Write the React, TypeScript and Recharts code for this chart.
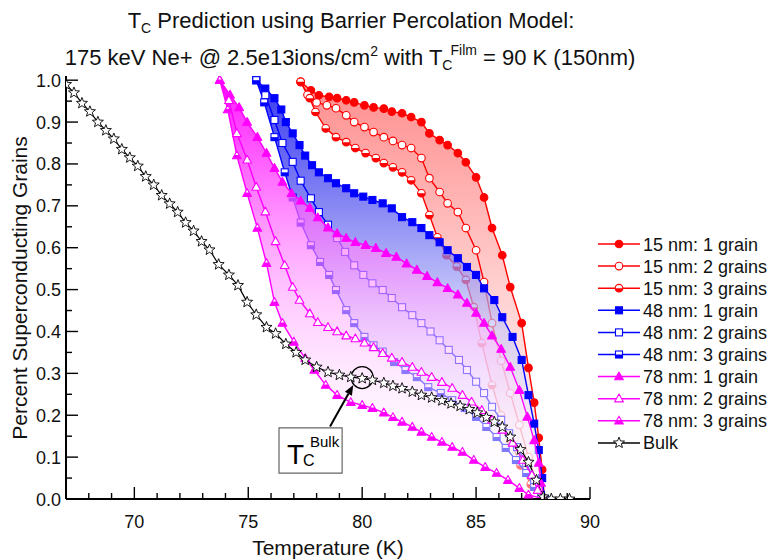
import React from 'react';
import {
  ComposedChart, Line, Area, XAxis, YAxis, CartesianGrid, Legend,
  ReferenceArea, ReferenceDot, ReferenceLine,
} from 'recharts';

type Pt = [number, number];

// ---------- data (temperature K, fraction) ----------
const nm15Grain1: Pt[] = [
  [77.3, 0.996], [77.75, 0.976], [78.1, 0.964], [78.55, 0.96], [78.9, 0.957], [79.3, 0.952],
  [79.65, 0.947], [80.1, 0.94], [80.5, 0.935], [80.95, 0.932], [81.3, 0.925], [81.75, 0.921],
  [82.15, 0.912], [82.6, 0.9], [82.95, 0.873], [83.4, 0.857], [83.75, 0.845], [84.2, 0.826],
  [84.55, 0.804], [85.0, 0.768], [85.35, 0.72], [85.7, 0.647], [86.15, 0.582], [86.5, 0.506],
  [87.0, 0.42], [87.3, 0.313], [87.55, 0.23], [87.75, 0.146], [87.9, 0.07], [88.0, 0.0],
];
const nm15Grain2: Pt[] = [
  [77.3, 0.996], [77.6, 0.965], [78.0, 0.947], [78.45, 0.94], [78.85, 0.933], [79.3, 0.916],
  [79.65, 0.9], [80.1, 0.888], [80.5, 0.876], [80.95, 0.864], [81.35, 0.855], [81.75, 0.845],
  [82.15, 0.838], [82.6, 0.814], [82.95, 0.766], [83.4, 0.733], [83.75, 0.706], [84.2, 0.685],
  [84.55, 0.647], [85.0, 0.594], [85.35, 0.518], [85.7, 0.42], [86.1, 0.33], [86.5, 0.253],
  [86.9, 0.177], [87.3, 0.1], [87.65, 0.04], [88.0, 0.0],
];
const nm15Grain3: Pt[] = [
  [77.3, 0.996], [77.7, 0.957], [77.95, 0.924], [78.4, 0.885], [78.85, 0.864], [79.3, 0.852],
  [79.7, 0.838], [80.15, 0.826], [80.6, 0.814], [80.95, 0.802], [81.35, 0.792], [81.75, 0.78],
  [82.15, 0.761], [82.6, 0.73], [82.95, 0.678], [83.3, 0.625], [83.7, 0.582], [84.15, 0.555],
  [84.55, 0.523], [84.9, 0.458], [85.25, 0.372], [85.7, 0.272], [86.1, 0.2], [86.5, 0.14],
  [86.95, 0.08], [87.4, 0.035], [88.0, 0.0],
];
const nm48Grain1: Pt[] = [
  [75.35, 1.0], [75.75, 0.98], [76.15, 0.957], [76.45, 0.93], [76.65, 0.9], [76.95, 0.873],
  [77.25, 0.845], [77.5, 0.82], [77.8, 0.797], [78.1, 0.78], [78.5, 0.766], [78.85, 0.754],
  [79.3, 0.742], [79.65, 0.73], [80.05, 0.722], [80.45, 0.714], [80.9, 0.706], [81.3, 0.694],
  [81.75, 0.673], [82.2, 0.661], [82.6, 0.647], [82.95, 0.63], [83.4, 0.613], [83.75, 0.594],
  [84.2, 0.575], [84.6, 0.554], [85.0, 0.535], [85.35, 0.503], [85.8, 0.475], [86.15, 0.434],
  [86.6, 0.387], [87.0, 0.332], [87.3, 0.248], [87.55, 0.18], [87.75, 0.117], [87.9, 0.05], [88.0, 0.0],
];
const nm48Grain2: Pt[] = [
  [75.35, 1.0], [75.75, 0.964], [76.15, 0.905], [76.5, 0.85], [76.95, 0.805], [77.3, 0.76],
  [77.75, 0.718], [78.1, 0.685], [78.5, 0.655], [78.9, 0.623], [79.25, 0.59], [79.65, 0.558],
  [80.05, 0.535], [80.45, 0.515], [80.9, 0.499], [81.3, 0.48], [81.75, 0.458], [82.2, 0.439],
  [82.6, 0.42], [83.0, 0.4], [83.4, 0.379], [83.8, 0.356], [84.25, 0.332], [84.6, 0.308],
  [85.0, 0.28], [85.35, 0.253], [85.7, 0.22], [86.1, 0.189], [86.45, 0.157], [86.8, 0.124],
  [87.2, 0.086], [87.55, 0.045], [87.85, 0.01], [88.0, 0.0],
];
const nm48Grain3: Pt[] = [
  [75.35, 1.0], [75.7, 0.947], [76.15, 0.864], [76.6, 0.78], [76.95, 0.72], [77.3, 0.66],
  [77.75, 0.606], [78.15, 0.566], [78.55, 0.535], [78.85, 0.499], [79.3, 0.451], [79.65, 0.42],
  [80.1, 0.387], [80.5, 0.367], [80.9, 0.352], [81.4, 0.327], [81.9, 0.308], [82.4, 0.291],
  [82.9, 0.267], [83.45, 0.253], [83.95, 0.236], [84.5, 0.217], [85.0, 0.196], [85.45, 0.172],
  [85.9, 0.148], [86.3, 0.122], [86.75, 0.093], [87.2, 0.062], [87.55, 0.029], [88.0, 0.0],
];
const nm78Grain1: Pt[] = [
  [73.75, 1.0], [74.2, 0.965], [74.6, 0.935], [74.95, 0.9], [75.4, 0.864], [75.8, 0.826],
  [76.15, 0.79], [76.5, 0.757], [76.9, 0.73], [77.3, 0.712], [77.7, 0.695], [78.05, 0.672],
  [78.5, 0.648], [78.9, 0.634], [79.3, 0.623], [79.7, 0.613], [80.15, 0.606], [80.6, 0.599],
  [81.05, 0.587], [81.5, 0.578], [81.95, 0.562], [82.4, 0.547], [82.85, 0.532], [83.3, 0.517],
  [83.75, 0.503], [84.2, 0.488], [84.6, 0.468], [85.0, 0.444], [85.35, 0.42], [85.7, 0.39],
  [86.1, 0.358], [86.5, 0.315], [86.9, 0.26], [87.25, 0.196], [87.55, 0.14], [87.75, 0.086],
  [87.85, 0.038], [88.0, 0.0],
];
const nm78Grain2: Pt[] = [
  [73.75, 1.0], [74.15, 0.952], [74.5, 0.873], [74.95, 0.81], [75.35, 0.745], [75.75, 0.686],
  [76.2, 0.615], [76.6, 0.558], [76.95, 0.506], [77.25, 0.475], [77.7, 0.443], [78.05, 0.422],
  [78.5, 0.41], [78.9, 0.4], [79.3, 0.39], [79.7, 0.383], [80.1, 0.373], [80.5, 0.362],
  [80.9, 0.348], [81.3, 0.337], [81.75, 0.327], [82.2, 0.315], [82.6, 0.303], [83.05, 0.291],
  [83.5, 0.279], [83.95, 0.265], [84.4, 0.248], [84.8, 0.232], [85.25, 0.212], [85.7, 0.189],
  [86.15, 0.165], [86.6, 0.134], [87.05, 0.093], [87.45, 0.057], [87.7, 0.021], [88.0, 0.0],
];
const nm78Grain3: Pt[] = [
  [73.75, 1.0], [74.1, 0.93], [74.5, 0.82], [74.95, 0.73], [75.4, 0.647], [75.8, 0.563],
  [76.15, 0.47], [76.5, 0.42], [77.0, 0.375], [77.5, 0.336], [77.9, 0.308], [78.4, 0.272],
  [78.9, 0.248], [79.5, 0.231], [80.0, 0.224], [80.45, 0.217], [80.95, 0.206], [81.35, 0.195],
  [81.75, 0.184], [82.2, 0.172], [82.6, 0.16], [83.05, 0.148], [83.5, 0.136], [83.95, 0.124],
  [84.4, 0.112], [84.9, 0.093], [85.4, 0.076], [85.9, 0.062], [86.4, 0.045], [86.9, 0.026],
  [87.3, 0.01], [88.0, 0.0],
];
const bulk: Pt[] = [
  [67.0, 0.99], [67.35, 0.97], [67.7, 0.945], [68.05, 0.925], [68.4, 0.9], [68.75, 0.88],
  [69.1, 0.86], [69.45, 0.835], [69.8, 0.815], [70.15, 0.795], [70.5, 0.77], [70.85, 0.75],
  [71.2, 0.725], [71.55, 0.705], [71.9, 0.685], [72.25, 0.66], [72.6, 0.64], [72.95, 0.615],
  [73.3, 0.595], [73.7, 0.56], [74.15, 0.535], [74.55, 0.51], [74.95, 0.47], [75.35, 0.44],
  [75.8, 0.41], [76.2, 0.395], [76.65, 0.37], [77.1, 0.35], [77.5, 0.332], [78.0, 0.315],
  [78.5, 0.303], [79.0, 0.296], [79.5, 0.291], [80.0, 0.288], [80.45, 0.284], [80.95, 0.277],
  [81.35, 0.27], [81.75, 0.264], [82.2, 0.256], [82.6, 0.248], [83.05, 0.242], [83.5, 0.235],
  [83.9, 0.228], [84.3, 0.222], [84.7, 0.214], [85.05, 0.206], [85.45, 0.195], [85.8, 0.184],
  [86.15, 0.172], [86.5, 0.148], [86.95, 0.118], [87.3, 0.088], [87.65, 0.045], [87.95, 0.005],
  [88.3, 0.0], [88.7, 0.0], [89.1, 0.0],
];

// ---------- axes ----------
const xDomain: [number, number] = [67, 90];
const yDomain: [number, number] = [0, 1.01];
const xTicks = [67, 68, 69, 70, 71, 72, 73, 74, 75, 76, 77, 78, 79, 80, 81, 82, 83, 84, 85, 86, 87, 88, 89, 90];
const xLabelTicks = [70, 75, 80, 85, 90];
const yTicks = [0, 0.05, 0.1, 0.15, 0.2, 0.25, 0.3, 0.35, 0.4, 0.45, 0.5, 0.55, 0.6, 0.65, 0.7, 0.75, 0.8, 0.85, 0.9, 0.95, 1.0];
const yLabelTicks = [0, 0.1, 0.2, 0.3, 0.4, 0.5, 0.6, 0.7, 0.8, 0.9, 1.0];
const xMajorGrid = [70, 75, 80, 85];
const xMinorGrid = [68, 69, 71, 72, 73, 74, 76, 77, 78, 79, 81, 82, 83, 84, 86, 87, 88, 89];
const yMajorGrid = [0.1, 0.2, 0.3, 0.4, 0.5, 0.6, 0.7, 0.8, 0.9];
const yMinorGrid = [0.05, 0.15, 0.25, 0.35, 0.45, 0.55, 0.65, 0.75, 0.85, 0.95];

// annotation
const bulkTc = { t: 80, v: 0.29 };
const arrowFrom = { t: 78.59, v: 0.173 };
const arrowTo = { t: 79.61, v: 0.272 };
const boxRange = { t1: 76.35, t2: 79.12, v1: 0.062, v2: 0.17 };

const FONT = '"Liberation Sans", Arial, Helvetica, sans-serif';
const RED = '#ff0000';
const BLUE = '#0000ff';
const MAG = '#ff00ff';
const BLACK = '#000000';

type Kind = 'circle' | 'square' | 'triangle' | 'star';
type FillK = 'full' | 'open' | 'half';
interface SeriesDef { key: string; name: string; pts: Pt[]; color: string; kind: Kind; fill: FillK; }

const s15: SeriesDef[] = [
  { key: 'a1', name: '15 nm: 1 grain', pts: nm15Grain1, color: RED, kind: 'circle', fill: 'full' },
  { key: 'a2', name: '15 nm: 2 grains', pts: nm15Grain2, color: RED, kind: 'circle', fill: 'open' },
  { key: 'a3', name: '15 nm: 3 grains', pts: nm15Grain3, color: RED, kind: 'circle', fill: 'half' },
];
const s48: SeriesDef[] = [
  { key: 'b1', name: '48 nm: 1 grain', pts: nm48Grain1, color: BLUE, kind: 'square', fill: 'full' },
  { key: 'b2', name: '48 nm: 2 grains', pts: nm48Grain2, color: BLUE, kind: 'square', fill: 'open' },
  { key: 'b3', name: '48 nm: 3 grains', pts: nm48Grain3, color: BLUE, kind: 'square', fill: 'half' },
];
const s78: SeriesDef[] = [
  { key: 'c1', name: '78 nm: 1 grain', pts: nm78Grain1, color: MAG, kind: 'triangle', fill: 'full' },
  { key: 'c2', name: '78 nm: 2 grains', pts: nm78Grain2, color: MAG, kind: 'triangle', fill: 'open' },
  { key: 'c3', name: '78 nm: 3 grains', pts: nm78Grain3, color: MAG, kind: 'triangle', fill: 'half' },
];
const sBulk: SeriesDef = { key: 'bk', name: 'Bulk', pts: bulk, color: BLACK, kind: 'star', fill: 'open' };
const allSeries = [...s15, ...s48, ...s78, sBulk];

const toRows = (pts: Pt[]) => pts.map(([t, v]) => ({ t, v }));
const bandRows = (upper: Pt[], lower: Pt[]) => toRows([...upper].reverse().concat(lower));

function MarkerShape({ cx, cy, kind, fill, color }: { cx: number; cy: number; kind: Kind; fill: FillK; color: string }) {
  if (typeof cx !== 'number' || typeof cy !== 'number' || isNaN(cx) || isNaN(cy)) return null;
  const sw = 1.1;
  const inner = fill === 'full' ? color : '#ffffff';
  if (kind === 'circle') {
    const r = 3.8;
    return (
      <g>
        <circle cx={cx} cy={cy} r={r} fill={inner} stroke={color} strokeWidth={sw} />
        {fill === 'half' && <path d={`M${cx - r},${cy} A${r},${r} 0 0 0 ${cx + r},${cy} Z`} fill={color} />}
      </g>
    );
  }
  if (kind === 'square') {
    const s = 3.5;
    return (
      <g>
        <rect x={cx - s} y={cy - s} width={2 * s} height={2 * s} fill={inner} stroke={color} strokeWidth={sw} />
        {fill === 'half' && <rect x={cx - s} y={cy} width={2 * s} height={s} fill={color} />}
      </g>
    );
  }
  if (kind === 'triangle') {
    const r = 4.6;
    const top = cy - r;
    const bot = cy + r * 0.7;
    const hw = r * 0.95;
    const ym = (top + bot) / 2;
    return (
      <g>
        <polygon points={`${cx},${top} ${cx + hw},${bot} ${cx - hw},${bot}`} fill={inner} stroke={color} strokeWidth={sw} strokeLinejoin="round" />
        {fill === 'half' && <polygon points={`${cx - hw / 2},${ym} ${cx + hw / 2},${ym} ${cx + hw},${bot} ${cx - hw},${bot}`} fill={color} />}
      </g>
    );
  }
  const ro = 5.8;
  const ri = 2.5;
  const pts: string[] = [];
  for (let i = 0; i < 10; i++) {
    const a = -Math.PI / 2 + (i * Math.PI) / 5;
    const rr = i % 2 === 0 ? ro : ri;
    pts.push(`${cx + rr * Math.cos(a)},${cy + rr * Math.sin(a)}`);
  }
  return <polygon points={pts.join(' ')} fill="#ffffff" stroke={color} strokeWidth={0.9} strokeLinejoin="miter" />;
}

const makeDot = (d: SeriesDef) => (p: any) => (
  <MarkerShape key={`${d.key}-${p.index}`} cx={p.cx} cy={p.cy} kind={d.kind} fill={d.fill} color={d.color} />
);

const XTickBottom = (props: any) => {
  const { x, y, payload } = props;
  const v = payload.value;
  const major = xLabelTicks.includes(v);
  return (
    <g>
      <line x1={x} y1={y} x2={x} y2={y - (major ? 12 : 6)} stroke="#000" strokeWidth={1.4} />
      {major && (
        <text x={x} y={y + 29} textAnchor="middle" fontSize={18} fontFamily={FONT} fill="#111">{v}</text>
      )}
    </g>
  );
};
const XTickTop = (props: any) => {
  const { x, y, payload } = props;
  const major = xLabelTicks.includes(payload.value);
  return <line x1={x} y1={y} x2={x} y2={y + (major ? 12 : 6)} stroke="#000" strokeWidth={1.4} />;
};
const YTickLeft = (props: any) => {
  const { x, y, payload } = props;
  const v = payload.value;
  const major = yLabelTicks.includes(v);
  return (
    <g>
      <line x1={x} y1={y} x2={x + (major ? 12 : 6)} y2={y} stroke="#000" strokeWidth={1.4} />
      {major && (
        <text x={x - 5} y={y + 6.5} textAnchor="end" fontSize={18} fontFamily={FONT} fill="#111">{v.toFixed(1)}</text>
      )}
    </g>
  );
};
const YTickRight = (props: any) => {
  const { x, y, payload } = props;
  const major = yLabelTicks.includes(payload.value);
  return <line x1={x} y1={y} x2={x - (major ? 12 : 6)} y2={y} stroke="#000" strokeWidth={1.4} />;
};

const ArrowShape = (props: any) => {
  const { x1, y1, x2, y2 } = props;
  if ([x1, y1, x2, y2].some((n) => typeof n !== 'number')) return null;
  const ang = Math.atan2(y2 - y1, x2 - x1);
  const L = 10;
  const Wd = 4;
  const bx = x2 - L * Math.cos(ang);
  const by = y2 - L * Math.sin(ang);
  const px = -Math.sin(ang) * Wd;
  const py = Math.cos(ang) * Wd;
  return (
    <g>
      <line x1={x1} y1={y1} x2={bx} y2={by} stroke="#000" strokeWidth={2} />
      <polygon points={`${x2},${y2} ${bx + px},${by + py} ${bx - px},${by - py}`} fill="#000" />
    </g>
  );
};

const BoxLabel = (props: any) => {
  const vb = props.viewBox || {};
  const x = vb.x ?? 0;
  const y = vb.y ?? 0;
  return (
    <g fontFamily={FONT} fill="#000">
      <text x={x + 8} y={y + 36} fontSize={28}>T</text>
      <text x={x + 24} y={y + 38} fontSize={16}>C</text>
      <text x={x + 31} y={y + 19} fontSize={15}>Bulk</text>
    </g>
  );
};

const LegendBox = () => (
  <svg width={179} height={230} style={{ display: 'block' }}>
    {allSeries.map((d, i) => {
      const cy = 12 + i * 22.1;
      return (
        <g key={d.key}>
          <line x1={8} y1={cy} x2={50} y2={cy} stroke={d.color} strokeWidth={1.5} />
          <MarkerShape cx={29} cy={cy} kind={d.kind} fill={d.fill} color={d.color} />
          <text x={53} y={cy + 6.5} fontSize={18} fontFamily={FONT} fill="#111">{d.name}</text>
        </g>
      );
    })}
  </svg>
);

interface BandDef { id: string; upper: Pt[]; lower: Pt[]; stops: [number, string, number][]; }
const bands: BandDef[] = [
  { id: 'gRed', upper: nm15Grain1, lower: nm15Grain3, stops: [[0, '#ff0000', 0.44], [0.2, '#ff0000', 0.34], [0.5, '#ff0000', 0.18], [1, '#ff0000', 0.03]] },
  {
    id: 'gBlue', upper: nm48Grain1, lower: nm48Grain3,
    stops: [[0, '#1010e8', 0.82], [0.1, '#2020f0', 0.78], [0.3, '#6060f0', 0.75], [0.45, '#9090f5', 0.7], [0.6, '#c8c8fa', 0.65], [0.8, '#e8e8fd', 0.6], [1, '#ffffff', 0.5]],
  },
  {
    id: 'gMag', upper: nm78Grain1, lower: nm78Grain3,
    stops: [[0, '#ff00ff', 0.9], [0.2, '#ff40ff', 0.82], [0.4, '#ff80ff', 0.68], [0.55, '#ffb0ff', 0.6], [0.7, '#ffd8ff', 0.55], [0.85, '#fff4ff', 0.5], [1, '#ffffff', 0.45]],
  },
];
const groups: SeriesDef[][] = [s15, s48, s78];

const W = 769;
const H = 560;
const MARGIN = { top: 76, right: 179, bottom: 0, left: 0 };

function seriesLine(d: SeriesDef, width: number) {
  return (
    <Line
      key={d.key}
      data={toRows(d.pts)}
      dataKey="v"
      name={d.name}
      type="linear"
      stroke={d.color}
      strokeWidth={width}
      dot={makeDot(d)}
      activeDot={false}
      isAnimationActive={false}
    />
  );
}

function bandArea(b: BandDef) {
  return (
    <Area
      key={`band-${b.id}`}
      data={bandRows(b.upper, b.lower)}
      dataKey="v"
      type="linear"
      stroke="none"
      fill={`url(#${b.id})`}
      fillOpacity={1}
      dot={false}
      activeDot={false}
      isAnimationActive={false}
      legendType="none"
    />
  );
}

// one stacked layer (each layer shares the same axes geometry)
function Layer({ band, series, top, bottom, extra }: { band: BandDef; series: SeriesDef[]; top: boolean; bottom: boolean; extra?: React.ReactNode }) {
  const vis = top;
  return (
    <div style={{ position: 'absolute', left: 0, top: 0, width: W, height: H }}>
      <ComposedChart width={W} height={H} margin={MARGIN}>
        <defs>
          <linearGradient id={band.id} x1="0" y1="0" x2="0" y2="1">
            {band.stops.map(([o, c, a], i) => (
              <stop key={i} offset={o} stopColor={c} stopOpacity={a} />
            ))}
          </linearGradient>
        </defs>
        {bottom && (
          <CartesianGrid verticalValues={xMinorGrid} horizontalValues={yMinorGrid} stroke="#cfcfcf" strokeDasharray="2 2" />
        )}
        {bottom && <CartesianGrid verticalValues={xMajorGrid} horizontalValues={yMajorGrid} stroke="#a6a6a6" />}
        <XAxis
          type="number" dataKey="t" domain={xDomain} allowDataOverflow ticks={xTicks} interval={0}
          height={61} tickSize={0} tickMargin={0} tickLine={false} tick={vis ? <XTickBottom /> : false}
          axisLine={vis ? { stroke: '#000', strokeWidth: 2 } : false}
        />
        <XAxis
          xAxisId="top" orientation="top" type="number" dataKey="t" domain={xDomain} allowDataOverflow ticks={xTicks}
          interval={0} height={0} tickSize={0} tickMargin={0} tickLine={false} tick={vis ? <XTickTop /> : false}
          axisLine={vis ? { stroke: '#000', strokeWidth: 1.5 } : false}
        />
        <YAxis
          type="number" domain={yDomain} allowDataOverflow ticks={yTicks} interval={0} width={66}
          tickSize={0} tickMargin={0} tickLine={false} tick={vis ? <YTickLeft /> : false}
          axisLine={vis ? { stroke: '#000', strokeWidth: 2 } : false}
        />
        <YAxis
          yAxisId="right" orientation="right" type="number" domain={yDomain} allowDataOverflow ticks={yTicks}
          interval={0} width={0} tickSize={0} tickMargin={0} tickLine={false} tick={vis ? <YTickRight /> : false}
          axisLine={vis ? { stroke: '#000', strokeWidth: 1.5 } : false}
        />
        {bandArea(band)}
        {series.map((d) => seriesLine(d, 1.4))}
        {extra}
      </ComposedChart>
    </div>
  );
}

export default function App() {
  const topExtras = [
    seriesLine(sBulk, 1.2),
    <ReferenceLine
      key="arrow"
      segment={[{ x: arrowFrom.t, y: arrowFrom.v }, { x: arrowTo.t, y: arrowTo.v }]}
      stroke="#000" shape={ArrowShape}
    />,
    <ReferenceDot key="circ" x={bulkTc.t} y={bulkTc.v} r={11} fill="none" stroke="#000" strokeWidth={1.3} />,
    <ReferenceArea
      key="box"
      x1={boxRange.t1} x2={boxRange.t2} y1={boxRange.v1} y2={boxRange.v2}
      fill="#ffffff" fillOpacity={1} stroke="#666" strokeWidth={1.2}
      label={<BoxLabel />}
    />,
    <Legend
      key="legend"
      layout="vertical" align="center" verticalAlign="middle"
      wrapperStyle={{ left: 590, top: 232, width: 179, height: 230 }}
      content={() => <LegendBox />}
    />,
  ];

  return (
    <div style={{ position: 'absolute', left: 0, top: 0, width: W, height: H, background: '#fff' }}>
      <Layer band={bands[0]} series={groups[0]} top={false} bottom={true} />
      <Layer band={bands[1]} series={groups[1]} top={false} bottom={false} />
      <Layer band={bands[2]} series={groups[2]} top={true} bottom={false} extra={topExtras} />
      <svg width={W} height={H} style={{ position: 'absolute', left: 0, top: 0, pointerEvents: 'none' }}>
        <g fontFamily={FONT} fill="#111">
          <text x={351} y={28} textAnchor="middle" fontSize={22}>
            T<tspan fontSize={14} dy={5}>C</tspan><tspan dy={-5}> Prediction using Barrier Percolation Model:</tspan>
          </text>
          <text x={350} y={65} textAnchor="middle" fontSize={22}>
            175 keV Ne+ @ 2.5e13ions/cm<tspan fontSize={14} dy={-9}>2</tspan><tspan dy={9}> with T</tspan><tspan fontSize={14} dy={5}>C</tspan><tspan fontSize={14} dy={-15} dx={-2}>Film</tspan><tspan dy={10}> = 90 K (150nm)</tspan>
          </text>
          <text x={328} y={555} textAnchor="middle" fontSize={21}>Temperature (K)</text>
          <text transform="translate(27,288) rotate(-90)" textAnchor="middle" fontSize={21}>Percent Superconducting Grains</text>
        </g>
      </svg>
    </div>
  );
}
